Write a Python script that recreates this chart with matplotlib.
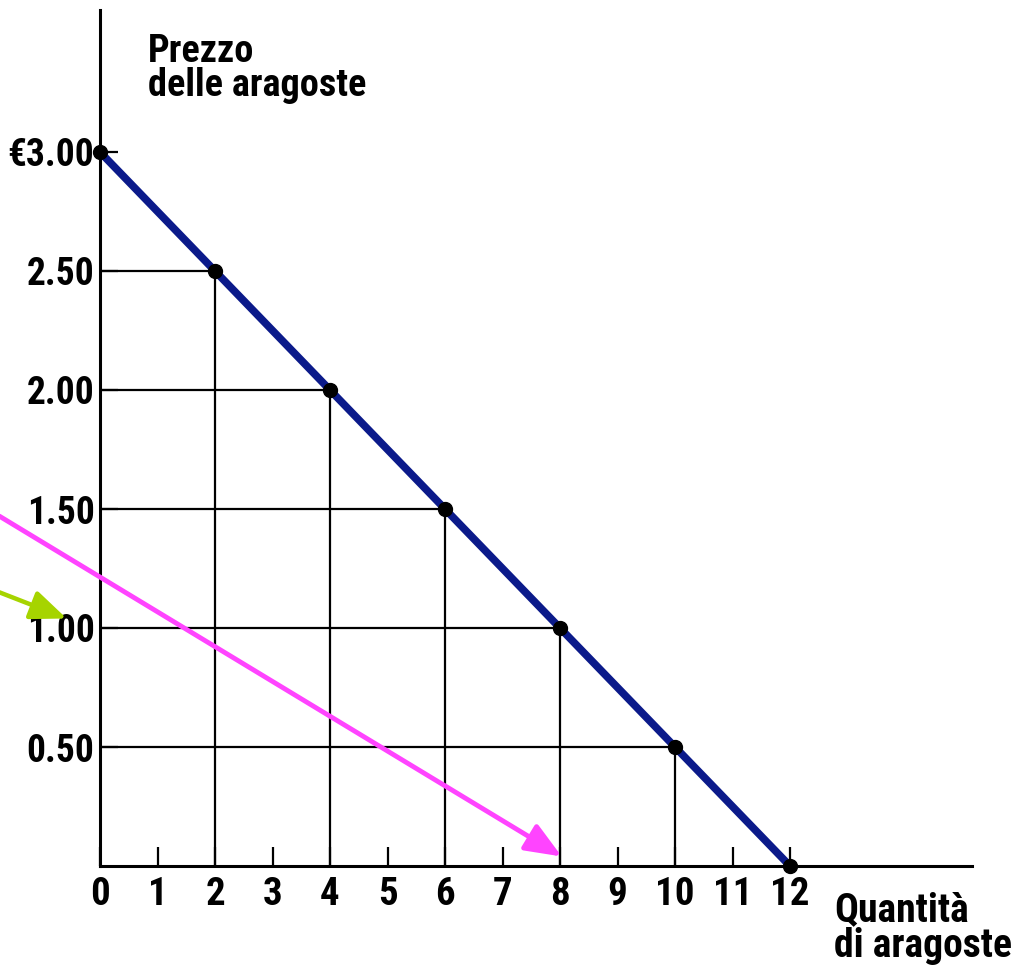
import matplotlib
matplotlib.use("Agg")
import matplotlib.pyplot as plt

# Data
quantities = [0, 2, 4, 6, 8, 10, 12]
prices = [3.00, 2.50, 2.00, 1.50, 1.00, 0.50, 0.00]
x_ticks = list(range(0, 13))
y_ticks = [0.5, 1.0, 1.5, 2.0, 2.5, 3.0]
y_tick_labels = ["0.50", "1.00", "1.50", "2.00", "2.50", "€3.00"]
y_label = "Prezzo\ndelle aragoste"
x_label = "Quantità\ndi aragoste"

FONT = ['Roboto Condensed', 'DejaVu Sans']
plt.rcParams['font.family'] = FONT
plt.rcParams['font.weight'] = 'bold'

W, H = 1028, 968
fig = plt.figure(figsize=(W / 100, H / 100), dpi=100)
ax = fig.add_axes([100 / W, (H - 866) / H, 872 / W, 856 / H])
ax.set_xlim(0, 872 / 57.5)
ax.set_ylim(0, 856 / 238)

for s in ['top', 'right']:
    ax.spines[s].set_visible(False)
for s in ['left', 'bottom']:
    ax.spines[s].set_linewidth(2.2)
    ax.spines[s].set_color('black')

# guide lines
for q, p in zip(quantities, prices):
    if p > 0 and q > 0:
        ax.plot([0, q], [p, p], color='black', lw=1.6, zorder=2)
        ax.plot([q, q], [0, p], color='black', lw=1.6, zorder=2)

# demand curve
ax.plot(quantities, prices, color='#0b1a8a', lw=5.5, zorder=3, solid_capstyle='butt')
ax.plot(quantities, prices, 'o', color='black', ms=10, zorder=4, clip_on=False)

ax.set_xticks(x_ticks)
ax.set_xticklabels([str(v) for v in x_ticks])
ax.set_yticks(y_ticks)
ax.set_yticklabels(y_tick_labels)
ax.tick_params(axis='x', direction='in', length=14, width=1.6, pad=7, labelsize=28)
ax.tick_params(axis='y', direction='in', length=13, width=1.6, pad=4, labelsize=27)
for lbl in ax.get_xticklabels() + ax.get_yticklabels():
    lbl.set_fontweight('bold')

# axis titles
for line, base in zip(y_label.split('\n'), [62, 96]):
    fig.text(148 / W, 1 - base / H, line, ha='left', va='baseline',
             fontsize=27.5, fontweight='bold')
fig.text(834 / W, 1 - 891 / H, x_label, ha='left', va='top',
         fontsize=28.5, fontweight='bold', linespacing=0.93)

# arrows
ax.annotate('', xy=(8.03, 0.04), xytext=(-1.75, 1.47),
            arrowprops=dict(arrowstyle='-|>,head_length=2.2,head_width=0.9',
                            color='#ff44ff', lw=3.5, shrinkA=0, shrinkB=0),
            annotation_clip=False, zorder=5)
ax.annotate('', xy=(-0.58, 1.04), xytext=(-1.75, 1.15),
            arrowprops=dict(arrowstyle='-|>,head_length=2.2,head_width=0.9',
                            color='#a6d400', lw=3.2, shrinkA=0, shrinkB=0),
            annotation_clip=False, zorder=5)

fig.savefig('out.png', dpi=100)
